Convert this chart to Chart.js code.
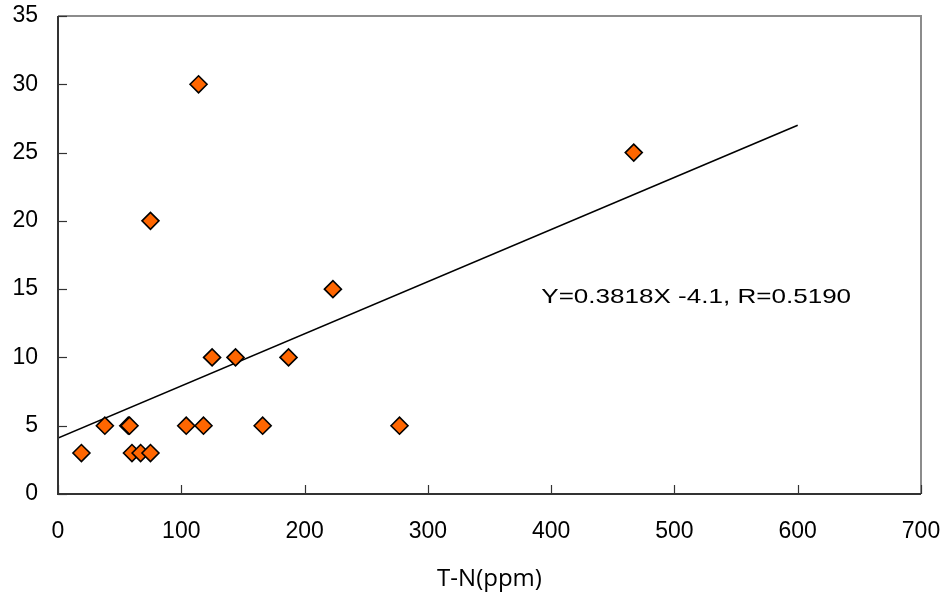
<!DOCTYPE html>
<html>
<head>
<meta charset="utf-8">
<script src="https://cdn.jsdelivr.net/npm/chart.js@4"></script>
<style>
  html, body { margin: 0; padding: 0; background: #fff; }
  canvas { display: block; }
</style>
</head>
<body>
<canvas id="tnChart" width="948" height="599"></canvas>
<script>
// data
const tnValues = [19, 38, 57, 58, 60, 67, 75, 104, 118, 166, 75, 114, 125, 144, 187, 223, 277, 467];
const yValues  = [3, 5, 5, 5, 3, 3, 3, 5, 5, 5, 20, 30, 10, 10, 10, 15, 5, 25];
const trendX = [0, 600];
const trendY = [4.1, 27.0];
const xTicks = [0, 100, 200, 300, 400, 500, 600, 700];
const yTicks = [0, 5, 10, 15, 20, 25, 30, 35];
const xTitle = 'T-N(ppm)';
const noteText = 'Y=0.3818X -4.1, R=0.5190';
const notePos = { x: 392, y: 14.0 };

// frame + inside tick marks + regression note
const framePlugin = {
  id: 'frame',
  afterDraw(chart) {
    const { ctx, chartArea: a, scales } = chart;
    ctx.save();
    ctx.lineWidth = 2;
    ctx.strokeStyle = '#8c8c8c';
    ctx.beginPath();
    ctx.moveTo(a.left, a.top);
    ctx.lineTo(a.right, a.top);
    ctx.lineTo(a.right, a.bottom);
    ctx.stroke();
    ctx.strokeStyle = '#333';
    ctx.beginPath();
    ctx.moveTo(a.left, a.top);
    ctx.lineTo(a.left, a.bottom);
    ctx.lineTo(a.right, a.bottom);
    ctx.stroke();
    ctx.lineWidth = 1.2;
    yTicks.forEach(v => {
      const py = Math.round(scales.y.getPixelForValue(v)) + 0.5;
      ctx.beginPath();
      ctx.moveTo(a.left, py);
      ctx.lineTo(a.left + 9, py);
      ctx.stroke();
    });
    xTicks.forEach(v => {
      const px = Math.round(scales.x.getPixelForValue(v)) + 0.5;
      ctx.beginPath();
      ctx.moveTo(px, a.bottom);
      ctx.lineTo(px, a.bottom - 9);
      ctx.stroke();
    });
    // note text, horizontally wide like the original
    const nx = scales.x.getPixelForValue(notePos.x);
    const ny = scales.y.getPixelForValue(notePos.y);
    ctx.fillStyle = '#000';
    ctx.font = '21px "Liberation Sans", Arial, sans-serif';
    ctx.textBaseline = 'alphabetic';
    ctx.textAlign = 'left';
    ctx.translate(nx, ny);
    ctx.scale(1.24, 1);
    ctx.fillText(noteText, 0, 0);
    ctx.restore();
  }
};

const tickFont = { family: '"Liberation Sans", Arial, sans-serif', size: 23 };

new Chart(document.getElementById('tnChart'), {
  type: 'scatter',
  data: {
    datasets: [
      {
        type: 'line',
        data: trendX.map((x, i) => ({ x: x, y: trendY[i] })),
        borderColor: '#000',
        borderWidth: 1.6,
        pointRadius: 0,
        fill: false,
        order: 2
      },
      {
        data: tnValues.map((x, i) => ({ x: x, y: yValues[i] })),
        pointStyle: 'rectRot',
        pointRadius: 8.5,
        pointHoverRadius: 8.5,
        backgroundColor: '#ff6600',
        borderColor: '#000',
        borderWidth: 1.6,
        order: 1
      }
    ]
  },
  options: {
    responsive: false,
    animation: false,
    devicePixelRatio: 1,
    layout: { padding: { top: 16, right: 27, left: 0, bottom: 0 } },
    plugins: { legend: { display: false }, tooltip: { enabled: false } },
    scales: {
      x: {
        type: 'linear',
        min: 0,
        max: 700,
        afterFit: s => { s.height = 105; s.paddingLeft = 0; s.paddingRight = 0; },
        afterBuildTicks: s => { s.ticks = xTicks.map(v => ({ value: v })); },
        grid: { display: false, drawTicks: false },
        border: { display: false },
        ticks: { font: tickFont, color: '#000', padding: 24, maxRotation: 0 },
        title: {
          display: true,
          text: xTitle,
          color: '#000',
          font: { family: '"Open Sans", "Noto Sans", sans-serif', size: 24 },
          padding: { top: 0, bottom: 5 }
        }
      },
      y: {
        type: 'linear',
        min: 0,
        max: 35,
        afterFit: s => { s.width = 58; s.paddingTop = 0; s.paddingBottom = 0; },
        afterBuildTicks: s => { s.ticks = yTicks.map(v => ({ value: v })); },
        grid: { display: false, drawTicks: false },
        border: { display: false },
        ticks: { font: tickFont, color: '#000', padding: 20 }
      }
    }
  },
  plugins: [framePlugin]
});
</script>
</body>
</html>
